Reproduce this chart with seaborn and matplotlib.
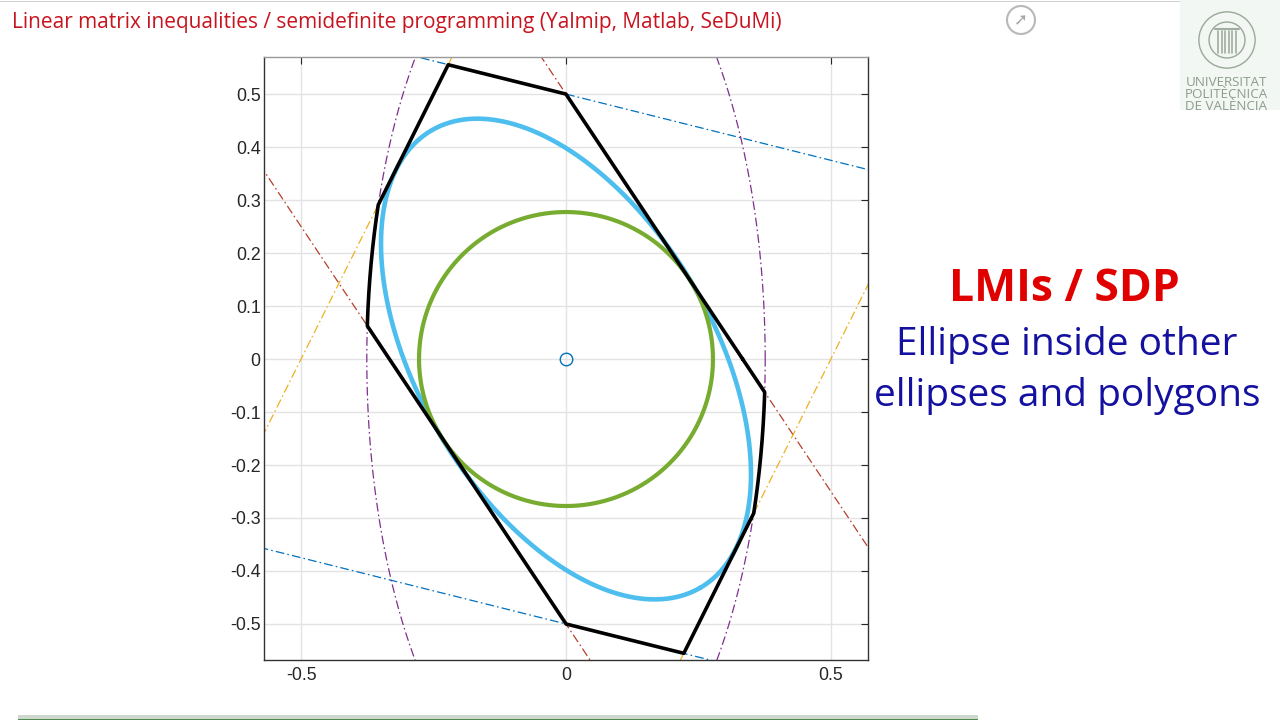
import numpy as np
import pandas as pd
import seaborn as sns
import matplotlib.pyplot as plt
from matplotlib.patches import Circle, Rectangle

# polygon sides: strips |y - m*x| <= h
line_slopes = [-0.25, -1.5, 2.0]
line_halfwidths = [0.5, 0.5, 1.0]
line_colors = ['#0072BD', '#B5402A', '#EDB120']

# outer ellipse x^2/a^2 + y^2/b^2 <= 1
outer_axes = [0.376, 0.87]
# inscribed ellipse x' P x <= 1
inner_P = [[10.65, 3.93], [3.93, 6.31]]
# largest inscribed circle
circle_radius = 0.2774
center = [0.0, 0.0]

x_ticks = [-0.5, 0, 0.5]
x_labels = ['-0.5', '0', '0.5']
y_ticks = [0.5, 0.4, 0.3, 0.2, 0.1, 0, -0.1, -0.2, -0.3, -0.4, -0.5]
y_labels = ['0.5', '0.4', '0.3', '0.2', '0.1', '0', '-0.1', '-0.2', '-0.3', '-0.4', '-0.5']

sns.set_style('white')
plt.rcParams['axes.unicode_minus'] = False
plt.rcParams['font.family'] = ['Open Sans', 'DejaVu Sans']

fig = plt.figure(figsize=(12.8, 7.2), dpi=100)
ax = fig.add_axes([264 / 1280, 1 - 660 / 720, 604 / 1280, 603 / 720])
ax.set_xlim(-0.57, 0.57)
ax.set_ylim(-0.568, 0.57)

theta = np.linspace(0, 2 * np.pi, 20001)
dx, dy = np.cos(theta), np.sin(theta)
dash = (0, (7, 2.5, 1.3, 2.5))

# constraint lines
xs = np.array([-0.7, 0.7])
for m, h, c in zip(line_slopes, line_halfwidths, line_colors):
    for s in (1, -1):
        ax.plot(xs, m * xs + s * h, color=c, lw=0.9, linestyle=dash, zorder=2)

# outer ellipse
ax.plot(outer_axes[0] * dx, outer_axes[1] * dy, color='#7E2F8E', lw=0.9,
        linestyle=dash, zorder=2)

# feasible region boundary (ray from center to nearest constraint)
r = 1 / np.sqrt(dx ** 2 / outer_axes[0] ** 2 + dy ** 2 / outer_axes[1] ** 2)
for m, h in zip(line_slopes, line_halfwidths):
    sv = np.abs(dy - m * dx)
    r = np.minimum(r, h / np.maximum(sv, 1e-12))
region = pd.DataFrame({'x': r * dx, 'y': r * dy})
sns.lineplot(data=region, x='x', y='y', sort=False, estimator=None,
             color='black', lw=2.6, ax=ax, zorder=4)

# inscribed ellipse
w, V = np.linalg.eigh(np.array(inner_P))
pts = V @ np.diag(1 / np.sqrt(w)) @ np.vstack([dx, dy])
ell = pd.DataFrame({'x': pts[0] + center[0], 'y': pts[1] + center[1]})
sns.lineplot(data=ell, x='x', y='y', sort=False, estimator=None,
             color='#4DBEEE', lw=3.3, ax=ax, zorder=3)

# inscribed circle
circ = pd.DataFrame({'x': circle_radius * dx, 'y': circle_radius * dy})
sns.lineplot(data=circ, x='x', y='y', sort=False, estimator=None,
             color='#77AC30', lw=3.0, ax=ax, zorder=3)

ax.plot(center[0], center[1], 'o', mfc='none', mec='#0072BD', ms=9, mew=1, zorder=5)

ax.set_xticks(x_ticks)
ax.set_xticklabels(x_labels)
ax.set_yticks(y_ticks)
ax.set_yticklabels(y_labels)
ax.grid(True, color='#e3e3e3', lw=1)
ax.set_axisbelow(True)
ax.set_xlabel('')
ax.set_ylabel('')
for sp in ax.spines.values():
    sp.set_color('#333333')
    sp.set_linewidth(1)
ax.spines['top'].set_color('#999999')
ax.tick_params(direction='in', length=5, width=0.8, top=True, right=True,
               labelsize=12.8, colors='#262626')
ax.tick_params(axis='y', pad=2.5)
ax.tick_params(axis='x', pad=5)
for lab in ax.get_xticklabels() + ax.get_yticklabels():
    lab.set_fontfamily('Liberation Sans')

# slide decorations
fig.text(12 / 1280, 1 - 28 / 720,
         'Linear matrix inequalities / semidefinite programming (Yalmip, Matlab, SeDuMi)',
         color='#C8141E', fontsize=15.0, va='baseline', ha='left')
fig.text(1064 / 1280, 1 - 301 / 720, 'LMIs / SDP', color='#E00000',
         fontsize=32, fontweight='bold', ha='center', va='baseline')
fig.text(1067 / 1280, 1 - 355 / 720, 'Ellipse inside other', color='#1410A0',
         fontsize=28, ha='center', va='baseline')
fig.text(1067 / 1280, 1 - 406 / 720, 'ellipses and polygons', color='#1410A0',
         fontsize=28, ha='center', va='baseline')

# top rule and bottom bar
fig.add_artist(Rectangle((0, 1 - 2 / 720), 1180 / 1280, 1.5 / 720,
                         transform=fig.transFigure, color='#d0d0d0', lw=0))
fig.add_artist(Rectangle((18 / 1280, 0), 960 / 1280, 5 / 720,
                         transform=fig.transFigure, color='#cfd8cf', lw=0))
fig.add_artist(Rectangle((18 / 1280, 0), 960 / 1280, 1.5 / 720,
                         transform=fig.transFigure, color='#4f8a4f', lw=0))

# university logo
fig.add_artist(Rectangle((1180 / 1280, 1 - 110 / 720), 100 / 1280, 110 / 720,
                         transform=fig.transFigure, color='#f3f7f3', lw=0, zorder=-5))
logo_ax = fig.add_axes([1198 / 1280, 1 - 69 / 720, 58 / 1280, 58 / 720])
logo_ax.set_zorder(5)
logo_ax.patch.set_alpha(0)
logo_ax.set_xlim(-1, 1)
logo_ax.set_ylim(-1, 1)
logo_ax.axis('off')
logo_ax.add_patch(Circle((0, 0), 0.97, fill=False, ec='#9aa89a', lw=1))
logo_ax.add_patch(Circle((0, 0), 0.62, fill=False, ec='#9aa89a', lw=1))
for xb in np.linspace(-0.3, 0.3, 6):
    logo_ax.plot([xb, xb], [-0.45, 0.3], color='#a0ada0', lw=1.2)
logo_ax.plot([-0.4, 0.4], [0.38, 0.38], color='#a0ada0', lw=1.5)
for i, txt in enumerate(['UNIVERSITAT', 'POLITÈCNICA', 'DE VALÈNCIA']):
    fig.text(1226 / 1280, 1 - (86 + 12 * i) / 720, txt, color='#8c9c8c',
             fontsize=9.6, ha='center', va='baseline')

# link icon
fig.add_artist(Circle((10.21, 7.0), 0.14, transform=fig.dpi_scale_trans,
                      fill=False, ec='#b8b8b8', lw=1.5))
fig.text(1021 / 1280, 1 - 20 / 720, '➚', color='#a8a8a8', fontsize=12,
         ha='center', va='center', family=['DejaVu Sans'])

fig.savefig('out.png', dpi=100)
